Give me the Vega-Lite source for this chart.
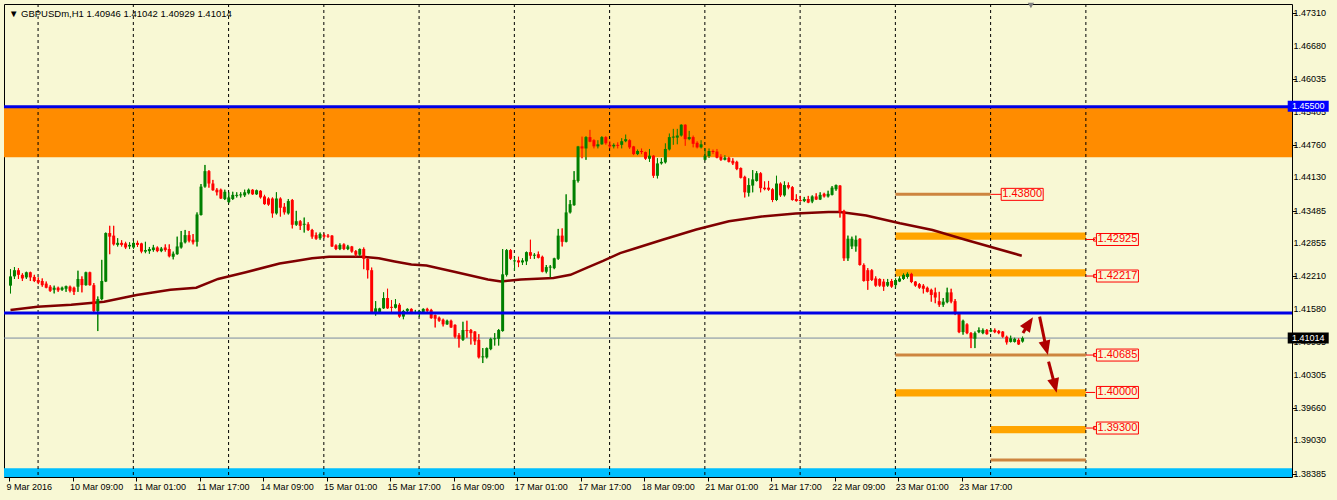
{
"$schema":"https://vega.github.io/schema/vega-lite/v6.json",
"width":1288,"height":473,
"autosize":{"type":"none"},
"padding":{"left":4,"top":4,"right":45,"bottom":23},
"background":"#F8F8D4",
"config":{"view":{"stroke":"#000000","strokeWidth":1},"font":"Liberation Sans","axis":{"labelOverlap":false,"labelFlush":false,"labelBound":false}},
"title":{"text":"▼  GBPUSDm,H1  1.40946 1.41042 1.40929 1.41014","anchor":"start","frame":"group","offset":-16,"dx":5,"fontSize":9.5,"fontWeight":"normal","font":"Liberation Sans","color":"#000000"},
"datasets":{
"candles":[
{"k":0,"o":1.4203,"h":1.4235,"l":1.4188,"c":1.4221},
{"k":1,"o":1.4221,"h":1.4239,"l":1.4216,"c":1.4233},
{"k":2,"o":1.4233,"h":1.4237,"l":1.4216,"c":1.4224},
{"k":3,"o":1.4224,"h":1.4227,"l":1.4212,"c":1.4217},
{"k":4,"o":1.4219,"h":1.4230,"l":1.4216,"c":1.4229},
{"k":5,"o":1.4229,"h":1.4230,"l":1.4212,"c":1.4219},
{"k":6,"o":1.4220,"h":1.4224,"l":1.4210,"c":1.4212},
{"k":7,"o":1.4214,"h":1.4219,"l":1.4206,"c":1.4209},
{"k":8,"o":1.4212,"h":1.4217,"l":1.4201,"c":1.4204},
{"k":9,"o":1.4207,"h":1.4211,"l":1.4198,"c":1.4199},
{"k":10,"o":1.4201,"h":1.4204,"l":1.4191,"c":1.4193},
{"k":11,"o":1.4195,"h":1.4203,"l":1.4188,"c":1.4199},
{"k":12,"o":1.4199,"h":1.4201,"l":1.4191,"c":1.4194},
{"k":13,"o":1.4195,"h":1.4201,"l":1.4193,"c":1.4199},
{"k":14,"o":1.4197,"h":1.4203,"l":1.4191,"c":1.4202},
{"k":15,"o":1.4201,"h":1.4203,"l":1.4190,"c":1.4193},
{"k":16,"o":1.4199,"h":1.4201,"l":1.4185,"c":1.4191},
{"k":17,"o":1.4201,"h":1.4232,"l":1.4191,"c":1.4216},
{"k":18,"o":1.4216,"h":1.4221,"l":1.4190,"c":1.4204},
{"k":19,"o":1.4204,"h":1.4230,"l":1.4203,"c":1.4229},
{"k":20,"o":1.4229,"h":1.4230,"l":1.4203,"c":1.4204},
{"k":21,"o":1.4204,"h":1.4208,"l":1.4151,"c":1.4154},
{"k":22,"o":1.4154,"h":1.4182,"l":1.4115,"c":1.4177},
{"k":23,"o":1.4177,"h":1.4253,"l":1.4175,"c":1.4212},
{"k":24,"o":1.4211,"h":1.4306,"l":1.4210,"c":1.4305},
{"k":25,"o":1.4305,"h":1.4319,"l":1.4264,"c":1.4298},
{"k":26,"o":1.4300,"h":1.4319,"l":1.4281,"c":1.4283},
{"k":27,"o":1.4282,"h":1.4295,"l":1.4279,"c":1.4286},
{"k":28,"o":1.4286,"h":1.4291,"l":1.4279,"c":1.4282},
{"k":29,"o":1.4285,"h":1.4288,"l":1.4274,"c":1.4277},
{"k":30,"o":1.4279,"h":1.4287,"l":1.4274,"c":1.4282},
{"k":31,"o":1.4277,"h":1.4290,"l":1.4274,"c":1.4286},
{"k":32,"o":1.4286,"h":1.4290,"l":1.4278,"c":1.4282},
{"k":33,"o":1.4285,"h":1.4286,"l":1.4266,"c":1.4269},
{"k":34,"o":1.4269,"h":1.4288,"l":1.4266,"c":1.4272},
{"k":35,"o":1.4270,"h":1.4278,"l":1.4265,"c":1.4274},
{"k":36,"o":1.4272,"h":1.4282,"l":1.4269,"c":1.4277},
{"k":37,"o":1.4277,"h":1.4279,"l":1.4268,"c":1.4270},
{"k":38,"o":1.4270,"h":1.4278,"l":1.4268,"c":1.4275},
{"k":39,"o":1.4277,"h":1.4283,"l":1.4269,"c":1.4272},
{"k":40,"o":1.4274,"h":1.4283,"l":1.4258,"c":1.4260},
{"k":41,"o":1.4259,"h":1.4269,"l":1.4254,"c":1.4265},
{"k":42,"o":1.4264,"h":1.4298,"l":1.4263,"c":1.4279},
{"k":43,"o":1.4277,"h":1.4309,"l":1.4275,"c":1.4287},
{"k":44,"o":1.4287,"h":1.4311,"l":1.4285,"c":1.4301},
{"k":45,"o":1.4301,"h":1.4309,"l":1.4287,"c":1.4290},
{"k":46,"o":1.4292,"h":1.4303,"l":1.4283,"c":1.4287},
{"k":47,"o":1.4288,"h":1.4345,"l":1.4279,"c":1.4341},
{"k":48,"o":1.4340,"h":1.4400,"l":1.4339,"c":1.4395},
{"k":49,"o":1.4395,"h":1.4437,"l":1.4393,"c":1.4425},
{"k":50,"o":1.4425,"h":1.4427,"l":1.4393,"c":1.4401},
{"k":51,"o":1.4401,"h":1.4408,"l":1.4387,"c":1.4388},
{"k":52,"o":1.4389,"h":1.4392,"l":1.4378,"c":1.4384},
{"k":53,"o":1.4389,"h":1.4391,"l":1.4371,"c":1.4372},
{"k":54,"o":1.4371,"h":1.4389,"l":1.4369,"c":1.4385},
{"k":55,"o":1.4365,"h":1.4384,"l":1.4363,"c":1.4374},
{"k":56,"o":1.4371,"h":1.4385,"l":1.4369,"c":1.4379},
{"k":57,"o":1.4377,"h":1.4384,"l":1.4374,"c":1.4379},
{"k":58,"o":1.4378,"h":1.4384,"l":1.4374,"c":1.4380},
{"k":59,"o":1.4378,"h":1.4389,"l":1.4375,"c":1.4384},
{"k":60,"o":1.4382,"h":1.4391,"l":1.4380,"c":1.4389},
{"k":61,"o":1.4389,"h":1.4390,"l":1.4379,"c":1.4380},
{"k":62,"o":1.4380,"h":1.4389,"l":1.4379,"c":1.4388},
{"k":63,"o":1.4387,"h":1.4388,"l":1.4372,"c":1.4374},
{"k":64,"o":1.4376,"h":1.4379,"l":1.4360,"c":1.4361},
{"k":65,"o":1.4372,"h":1.4374,"l":1.4358,"c":1.4360},
{"k":66,"o":1.4372,"h":1.4374,"l":1.4335,"c":1.4343},
{"k":67,"o":1.4343,"h":1.4384,"l":1.4341,"c":1.4372},
{"k":68,"o":1.4372,"h":1.4374,"l":1.4337,"c":1.4354},
{"k":69,"o":1.4356,"h":1.4363,"l":1.4341,"c":1.4345},
{"k":70,"o":1.4343,"h":1.4371,"l":1.4341,"c":1.4367},
{"k":71,"o":1.4369,"h":1.4371,"l":1.4314,"c":1.4321},
{"k":72,"o":1.4321,"h":1.4348,"l":1.4319,"c":1.4328},
{"k":73,"o":1.4328,"h":1.4330,"l":1.4311,"c":1.4319},
{"k":74,"o":1.4321,"h":1.4335,"l":1.4306,"c":1.4323},
{"k":75,"o":1.4322,"h":1.4326,"l":1.4309,"c":1.4311},
{"k":76,"o":1.4311,"h":1.4313,"l":1.4294,"c":1.4298},
{"k":77,"o":1.4301,"h":1.4306,"l":1.4292,"c":1.4294},
{"k":78,"o":1.4295,"h":1.4306,"l":1.4292,"c":1.4303},
{"k":79,"o":1.4301,"h":1.4304,"l":1.4295,"c":1.4298},
{"k":80,"o":1.4300,"h":1.4303,"l":1.4296,"c":1.4298},
{"k":81,"o":1.4300,"h":1.4301,"l":1.4278,"c":1.4279},
{"k":82,"o":1.4281,"h":1.4283,"l":1.4272,"c":1.4274},
{"k":83,"o":1.4274,"h":1.4285,"l":1.4272,"c":1.4282},
{"k":84,"o":1.4283,"h":1.4285,"l":1.4272,"c":1.4274},
{"k":85,"o":1.4274,"h":1.4282,"l":1.4272,"c":1.4279},
{"k":86,"o":1.4279,"h":1.4280,"l":1.4267,"c":1.4269},
{"k":87,"o":1.4270,"h":1.4272,"l":1.4259,"c":1.4263},
{"k":88,"o":1.4263,"h":1.4275,"l":1.4261,"c":1.4274},
{"k":89,"o":1.4274,"h":1.4277,"l":1.4235,"c":1.4255},
{"k":90,"o":1.4255,"h":1.4256,"l":1.4217,"c":1.4233},
{"k":91,"o":1.4233,"h":1.4238,"l":1.4151,"c":1.4152},
{"k":92,"o":1.4152,"h":1.4173,"l":1.4145,"c":1.4159},
{"k":93,"o":1.4152,"h":1.4160,"l":1.4149,"c":1.4159},
{"k":94,"o":1.4159,"h":1.4190,"l":1.4158,"c":1.4179},
{"k":95,"o":1.4179,"h":1.4197,"l":1.4158,"c":1.4159},
{"k":96,"o":1.4162,"h":1.4175,"l":1.4151,"c":1.4160},
{"k":97,"o":1.4160,"h":1.4177,"l":1.4159,"c":1.4167},
{"k":98,"o":1.4166,"h":1.4169,"l":1.4141,"c":1.4143},
{"k":99,"o":1.4143,"h":1.4156,"l":1.4138,"c":1.4154},
{"k":100,"o":1.4154,"h":1.4159,"l":1.4151,"c":1.4158},
{"k":101,"o":1.4158,"h":1.4159,"l":1.4148,"c":1.4149},
{"k":102,"o":1.4149,"h":1.4156,"l":1.4148,"c":1.4152},
{"k":103,"o":1.4149,"h":1.4156,"l":1.4143,"c":1.4154},
{"k":104,"o":1.4152,"h":1.4159,"l":1.4150,"c":1.4158},
{"k":105,"o":1.4158,"h":1.4160,"l":1.4151,"c":1.4154},
{"k":106,"o":1.4156,"h":1.4158,"l":1.4139,"c":1.4140},
{"k":107,"o":1.4146,"h":1.4147,"l":1.4122,"c":1.4139},
{"k":108,"o":1.4141,"h":1.4143,"l":1.4133,"c":1.4135},
{"k":109,"o":1.4137,"h":1.4139,"l":1.4124,"c":1.4128},
{"k":110,"o":1.4128,"h":1.4137,"l":1.4127,"c":1.4135},
{"k":111,"o":1.4135,"h":1.4137,"l":1.4121,"c":1.4122},
{"k":112,"o":1.4127,"h":1.4128,"l":1.4101,"c":1.4104},
{"k":113,"o":1.4107,"h":1.4111,"l":1.4083,"c":1.4100},
{"k":114,"o":1.4098,"h":1.4133,"l":1.4096,"c":1.4117},
{"k":115,"o":1.4117,"h":1.4135,"l":1.4102,"c":1.4115},
{"k":116,"o":1.4117,"h":1.4119,"l":1.4089,"c":1.4111},
{"k":117,"o":1.4114,"h":1.4115,"l":1.4088,"c":1.4095},
{"k":118,"o":1.4098,"h":1.4109,"l":1.4062,"c":1.4064},
{"k":119,"o":1.4064,"h":1.4082,"l":1.4053,"c":1.4066},
{"k":120,"o":1.4064,"h":1.4083,"l":1.4062,"c":1.4082},
{"k":121,"o":1.4080,"h":1.4102,"l":1.4078,"c":1.4100},
{"k":122,"o":1.4099,"h":1.4111,"l":1.4087,"c":1.4101},
{"k":123,"o":1.4100,"h":1.4119,"l":1.4087,"c":1.4117},
{"k":124,"o":1.4115,"h":1.4274,"l":1.4114,"c":1.4225},
{"k":125,"o":1.4224,"h":1.4274,"l":1.4221,"c":1.4272},
{"k":126,"o":1.4272,"h":1.4274,"l":1.4253,"c":1.4255},
{"k":127,"o":1.4250,"h":1.4259,"l":1.4232,"c":1.4252},
{"k":128,"o":1.4252,"h":1.4259,"l":1.4239,"c":1.4248},
{"k":129,"o":1.4248,"h":1.4256,"l":1.4243,"c":1.4252},
{"k":130,"o":1.4250,"h":1.4269,"l":1.4243,"c":1.4268},
{"k":131,"o":1.4268,"h":1.4292,"l":1.4255,"c":1.4261},
{"k":132,"o":1.4261,"h":1.4266,"l":1.4255,"c":1.4263},
{"k":133,"o":1.4264,"h":1.4269,"l":1.4256,"c":1.4257},
{"k":134,"o":1.4259,"h":1.4261,"l":1.4229,"c":1.4230},
{"k":135,"o":1.4230,"h":1.4243,"l":1.4227,"c":1.4239},
{"k":136,"o":1.4238,"h":1.4243,"l":1.4219,"c":1.4240},
{"k":137,"o":1.4237,"h":1.4257,"l":1.4235,"c":1.4256},
{"k":138,"o":1.4255,"h":1.4313,"l":1.4253,"c":1.4300},
{"k":139,"o":1.4300,"h":1.4314,"l":1.4279,"c":1.4288},
{"k":140,"o":1.4288,"h":1.4380,"l":1.4287,"c":1.4345},
{"k":141,"o":1.4345,"h":1.4369,"l":1.4343,"c":1.4361},
{"k":142,"o":1.4359,"h":1.4425,"l":1.4358,"c":1.4408},
{"k":143,"o":1.4406,"h":1.4474,"l":1.4403,"c":1.4473},
{"k":144,"o":1.4473,"h":1.4492,"l":1.4450,"c":1.4469},
{"k":145,"o":1.4469,"h":1.4493,"l":1.4447,"c":1.4491},
{"k":146,"o":1.4491,"h":1.4505,"l":1.4481,"c":1.4482},
{"k":147,"o":1.4485,"h":1.4487,"l":1.4469,"c":1.4473},
{"k":148,"o":1.4473,"h":1.4485,"l":1.4469,"c":1.4477},
{"k":149,"o":1.4477,"h":1.4493,"l":1.4476,"c":1.4491},
{"k":150,"o":1.4491,"h":1.4493,"l":1.4476,"c":1.4479},
{"k":151,"o":1.4476,"h":1.4483,"l":1.4469,"c":1.4473},
{"k":152,"o":1.4473,"h":1.4479,"l":1.4469,"c":1.4476},
{"k":153,"o":1.4476,"h":1.4481,"l":1.4469,"c":1.4474},
{"k":154,"o":1.4476,"h":1.4489,"l":1.4469,"c":1.4483},
{"k":155,"o":1.4483,"h":1.4496,"l":1.4481,"c":1.4487},
{"k":156,"o":1.4485,"h":1.4487,"l":1.4468,"c":1.4471},
{"k":157,"o":1.4473,"h":1.4474,"l":1.4456,"c":1.4458},
{"k":158,"o":1.4458,"h":1.4467,"l":1.4456,"c":1.4464},
{"k":159,"o":1.4464,"h":1.4469,"l":1.4458,"c":1.4462},
{"k":160,"o":1.4462,"h":1.4463,"l":1.4447,"c":1.4449},
{"k":161,"o":1.4449,"h":1.4468,"l":1.4443,"c":1.4455},
{"k":162,"o":1.4455,"h":1.4456,"l":1.4412,"c":1.4416},
{"k":163,"o":1.4416,"h":1.4450,"l":1.4411,"c":1.4440},
{"k":164,"o":1.4440,"h":1.4450,"l":1.4438,"c":1.4443},
{"k":165,"o":1.4442,"h":1.4479,"l":1.4440,"c":1.4468},
{"k":166,"o":1.4467,"h":1.4498,"l":1.4465,"c":1.4491},
{"k":167,"o":1.4490,"h":1.4507,"l":1.4476,"c":1.4492},
{"k":168,"o":1.4490,"h":1.4507,"l":1.4477,"c":1.4494},
{"k":169,"o":1.4494,"h":1.4516,"l":1.4492,"c":1.4515},
{"k":170,"o":1.4515,"h":1.4516,"l":1.4474,"c":1.4487},
{"k":171,"o":1.4487,"h":1.4503,"l":1.4485,"c":1.4491},
{"k":172,"o":1.4491,"h":1.4494,"l":1.4471,"c":1.4478},
{"k":173,"o":1.4480,"h":1.4483,"l":1.4469,"c":1.4471},
{"k":174,"o":1.4471,"h":1.4485,"l":1.4469,"c":1.4477},
{"k":175,"o":1.4447,"h":1.4469,"l":1.4446,"c":1.4455},
{"k":176,"o":1.4454,"h":1.4469,"l":1.4451,"c":1.4464},
{"k":177,"o":1.4464,"h":1.4467,"l":1.4458,"c":1.4462},
{"k":178,"o":1.4463,"h":1.4468,"l":1.4450,"c":1.4451},
{"k":179,"o":1.4453,"h":1.4458,"l":1.4445,"c":1.4447},
{"k":180,"o":1.4447,"h":1.4456,"l":1.4446,"c":1.4451},
{"k":181,"o":1.4451,"h":1.4453,"l":1.4442,"c":1.4443},
{"k":182,"o":1.4445,"h":1.4450,"l":1.4437,"c":1.4440},
{"k":183,"o":1.4443,"h":1.4445,"l":1.4427,"c":1.4429},
{"k":184,"o":1.4431,"h":1.4432,"l":1.4411,"c":1.4412},
{"k":185,"o":1.4414,"h":1.4416,"l":1.4374,"c":1.4384},
{"k":186,"o":1.4383,"h":1.4411,"l":1.4376,"c":1.4398},
{"k":187,"o":1.4397,"h":1.4427,"l":1.4384,"c":1.4409},
{"k":188,"o":1.4406,"h":1.4425,"l":1.4405,"c":1.4421},
{"k":189,"o":1.4421,"h":1.4423,"l":1.4384,"c":1.4392},
{"k":190,"o":1.4393,"h":1.4405,"l":1.4388,"c":1.4390},
{"k":191,"o":1.4393,"h":1.4406,"l":1.4387,"c":1.4389},
{"k":192,"o":1.4390,"h":1.4392,"l":1.4365,"c":1.4369},
{"k":193,"o":1.4369,"h":1.4416,"l":1.4367,"c":1.4401},
{"k":194,"o":1.4401,"h":1.4403,"l":1.4375,"c":1.4378},
{"k":195,"o":1.4378,"h":1.4405,"l":1.4376,"c":1.4398},
{"k":196,"o":1.4398,"h":1.4403,"l":1.4390,"c":1.4393},
{"k":197,"o":1.4394,"h":1.4396,"l":1.4368,"c":1.4369},
{"k":198,"o":1.4371,"h":1.4380,"l":1.4366,"c":1.4367},
{"k":199,"o":1.4369,"h":1.4377,"l":1.4366,"c":1.4367},
{"k":200,"o":1.4367,"h":1.4375,"l":1.4365,"c":1.4371},
{"k":201,"o":1.4371,"h":1.4377,"l":1.4363,"c":1.4364},
{"k":202,"o":1.4366,"h":1.4378,"l":1.4363,"c":1.4376},
{"k":203,"o":1.4376,"h":1.4382,"l":1.4369,"c":1.4370},
{"k":204,"o":1.4370,"h":1.4384,"l":1.4369,"c":1.4379},
{"k":205,"o":1.4381,"h":1.4383,"l":1.4374,"c":1.4376},
{"k":206,"o":1.4376,"h":1.4387,"l":1.4374,"c":1.4381},
{"k":207,"o":1.4379,"h":1.4396,"l":1.4378,"c":1.4393},
{"k":208,"o":1.4390,"h":1.4399,"l":1.4387,"c":1.4398},
{"k":209,"o":1.4397,"h":1.4398,"l":1.4335,"c":1.4345},
{"k":210,"o":1.4348,"h":1.4350,"l":1.4251,"c":1.4256},
{"k":211,"o":1.4256,"h":1.4300,"l":1.4251,"c":1.4294},
{"k":212,"o":1.4279,"h":1.4298,"l":1.4274,"c":1.4294},
{"k":213,"o":1.4279,"h":1.4300,"l":1.4269,"c":1.4292},
{"k":214,"o":1.4294,"h":1.4295,"l":1.4242,"c":1.4243},
{"k":215,"o":1.4243,"h":1.4246,"l":1.4211,"c":1.4212},
{"k":216,"o":1.4233,"h":1.4237,"l":1.4195,"c":1.4212},
{"k":217,"o":1.4233,"h":1.4235,"l":1.4212,"c":1.4214},
{"k":218,"o":1.4217,"h":1.4221,"l":1.4201,"c":1.4203},
{"k":219,"o":1.4216,"h":1.4217,"l":1.4201,"c":1.4203},
{"k":220,"o":1.4211,"h":1.4216,"l":1.4193,"c":1.4201},
{"k":221,"o":1.4203,"h":1.4216,"l":1.4201,"c":1.4210},
{"k":222,"o":1.4212,"h":1.4216,"l":1.4199,"c":1.4201},
{"k":223,"o":1.4204,"h":1.4217,"l":1.4199,"c":1.4214},
{"k":224,"o":1.4211,"h":1.4221,"l":1.4210,"c":1.4217},
{"k":225,"o":1.4216,"h":1.4227,"l":1.4214,"c":1.4224},
{"k":226,"o":1.4220,"h":1.4229,"l":1.4217,"c":1.4226},
{"k":227,"o":1.4226,"h":1.4228,"l":1.4208,"c":1.4210},
{"k":228,"o":1.4211,"h":1.4212,"l":1.4201,"c":1.4203},
{"k":229,"o":1.4206,"h":1.4208,"l":1.4197,"c":1.4199},
{"k":230,"o":1.4203,"h":1.4206,"l":1.4188,"c":1.4197},
{"k":231,"o":1.4199,"h":1.4201,"l":1.4190,"c":1.4191},
{"k":232,"o":1.4195,"h":1.4197,"l":1.4172,"c":1.4185},
{"k":233,"o":1.4190,"h":1.4199,"l":1.4169,"c":1.4180},
{"k":234,"o":1.4173,"h":1.4191,"l":1.4162,"c":1.4166},
{"k":235,"o":1.4166,"h":1.4179,"l":1.4162,"c":1.4172},
{"k":236,"o":1.4171,"h":1.4199,"l":1.4169,"c":1.4190},
{"k":237,"o":1.4190,"h":1.4197,"l":1.4169,"c":1.4172},
{"k":238,"o":1.4173,"h":1.4177,"l":1.4146,"c":1.4148},
{"k":239,"o":1.4148,"h":1.4149,"l":1.4111,"c":1.4113},
{"k":240,"o":1.4113,"h":1.4137,"l":1.4108,"c":1.4135},
{"k":241,"o":1.4128,"h":1.4130,"l":1.4109,"c":1.4111},
{"k":242,"o":1.4111,"h":1.4113,"l":1.4082,"c":1.4101},
{"k":243,"o":1.4100,"h":1.4114,"l":1.4082,"c":1.4111},
{"k":244,"o":1.4113,"h":1.4122,"l":1.4111,"c":1.4117},
{"k":245,"o":1.4111,"h":1.4120,"l":1.4109,"c":1.4117},
{"k":246,"o":1.4117,"h":1.4119,"l":1.4108,"c":1.4109},
{"k":247,"o":1.4114,"h":1.4120,"l":1.4113,"c":1.4117},
{"k":248,"o":1.4117,"h":1.4120,"l":1.4111,"c":1.4113},
{"k":249,"o":1.4115,"h":1.4117,"l":1.4109,"c":1.4111},
{"k":250,"o":1.4114,"h":1.4115,"l":1.4102,"c":1.4104},
{"k":251,"o":1.4104,"h":1.4106,"l":1.4089,"c":1.4093},
{"k":252,"o":1.4094,"h":1.4106,"l":1.4093,"c":1.4101},
{"k":253,"o":1.4094,"h":1.4102,"l":1.4093,"c":1.4100},
{"k":254,"o":1.4098,"h":1.4101,"l":1.4088,"c":1.4089},
{"k":255,"o":1.40946,"h":1.41042,"l":1.40929,"c":1.41014}
],
"ma":[
{"k":0,"v":1.4156},{"k":6.8,"v":1.4162},{"k":15.3,"v":1.4166},{"k":23.6,"v":1.4172},{"k":31.8,"v":1.4185},{"k":40.3,"v":1.4195},{"k":46.8,"v":1.4199},{"k":52.3,"v":1.4216},{"k":59.3,"v":1.4229},{"k":67.8,"v":1.4246},{"k":71.8,"v":1.4251},{"k":76,"v":1.4256},{"k":80.3,"v":1.4259},{"k":88.6,"v":1.4259},{"k":92.8,"v":1.4256},{"k":96.8,"v":1.4250},{"k":101,"v":1.4244},{"k":104.8,"v":1.4242},{"k":111.8,"v":1.4230},{"k":120.3,"v":1.4215},{"k":123.6,"v":1.4211},{"k":128.6,"v":1.4215},{"k":136.8,"v":1.4218},{"k":141.1,"v":1.4224},{"k":145.3,"v":1.4238},{"k":149.3,"v":1.4251},{"k":153.6,"v":1.4266},{"k":157.3,"v":1.4275},{"k":164.3,"v":1.4292},{"k":172.8,"v":1.4312},{"k":181,"v":1.4328},{"k":189.3,"v":1.4337},{"k":197.8,"v":1.4343},{"k":206.1,"v":1.4346},{"k":209,"v":1.4346},{"k":215.6,"v":1.4339},{"k":224.1,"v":1.4324},{"k":232.3,"v":1.4311},{"k":240.6,"v":1.4292},{"k":246.6,"v":1.4279},{"k":254.8,"v":1.4261}
],
"grid":[{"k":6.95},{"k":30.95},{"k":54.95},{"k":78.95},{"k":102.95},{"k":126.95},{"k":150.95},{"k":174.95},{"k":198.95},{"k":222.95},{"k":246.95},{"k":270.95}],
"zones":[{"lo":1.4452,"hi":1.4550}],
"cyan":[{"lo":1.3832,"hi":1.3849}],
"bands":[
{"k1":222.95,"k2":270.95,"lo":1.4292,"hi":1.4306},
{"k1":222.95,"k2":270.95,"lo":1.4221,"hi":1.4235},
{"k1":222.95,"k2":270.95,"lo":1.3988,"hi":1.4002},
{"k1":246.95,"k2":270.95,"lo":1.3917,"hi":1.3931}
],
"levels":[
{"k1":222.95,"k2":246.95,"v":1.438},
{"k1":222.95,"k2":270.95,"v":1.40685},
{"k1":246.95,"k2":270.95,"v":1.3865}
],
"hlines":[{"v":1.455},{"v":1.4150}],
"labels":[
{"k":254.9,"v":1.438,"t":"1.43800","c1":246.95,"c2":249.7},
{"k":278.9,"v":1.42925,"t":"1.42925","c1":270.95,"c2":273.3},
{"k":278.9,"v":1.42217,"t":"1.42217","c1":270.95,"c2":273.3},
{"k":278.9,"v":1.40685,"t":"1.40685","c1":270.95,"c2":273.3},
{"k":278.9,"v":1.3996,"t":"1.40000","c1":270.95,"c2":273.3},
{"k":278.9,"v":1.3927,"t":"1.39300","c1":270.95,"c2":273.3}
],
"squares":[{"k":273.3,"v":1.42925},{"k":273.3,"v":1.42217},{"k":273.3,"v":1.40685},{"k":273.3,"v":1.3927}],
"arrows":[
{"k1":255.1,"v1":1.41113,"k2":256.5,"v2":1.41287},
{"k1":259.3,"v1":1.41429,"k2":260.9,"v2":1.40838},
{"k1":261.55,"v1":1.40556,"k2":263.1,"v2":1.40105}
],
"yticks":[{"k":323.25,"v":1.4731},{"k":323.25,"v":1.4668},{"k":323.25,"v":1.46035},{"k":323.25,"v":1.45405},{"k":323.25,"v":1.4476},{"k":323.25,"v":1.4413},{"k":323.25,"v":1.43485},{"k":323.25,"v":1.42855},{"k":323.25,"v":1.4221},{"k":323.25,"v":1.4158},{"k":323.25,"v":1.40935},{"k":323.25,"v":1.40305},{"k":323.25,"v":1.3966},{"k":323.25,"v":1.3903},{"k":323.25,"v":1.38385}],
"tags":[{"k":326.97,"v":1.4551,"t":"1.45500"},{"k":326.97,"v":1.41014,"t":"1.41014"}],
"shift":[{"k":257.1,"v":1.4746}],
"last":[{"v":1.41014}]
},
"layer":[
{"data":{"name":"candles"},"mark":{"type":"rule","strokeWidth":1},
 "encoding":{"x":{"field":"k","type":"quantitative","scale":{"domain":[-0.375,321.625],"nice":false,"zero":false},
   "axis":{"values":[-0.35,15.65,31.65,47.65,63.65,79.65,95.65,111.65,127.65,143.65,159.65,175.65,191.65,207.65,223.65,239.65],
   "labelExpr":"['9 Mar 2016','10 Mar 09:00','11 Mar 01:00','11 Mar 17:00','14 Mar 09:00','15 Mar 01:00','15 Mar 17:00','16 Mar 09:00','17 Mar 01:00','17 Mar 17:00','18 Mar 09:00','21 Mar 01:00','21 Mar 17:00','22 Mar 09:00','23 Mar 01:00','23 Mar 17:00'][round((datum.value+0.35)/16)]",
   "orient":"bottom","labelAlign":"left","labelBaseline":"top","labelOffset":-3,"tickSize":4,"tickColor":"#000000","labelPadding":1,"domain":false,"grid":false,"title":null,"labelFlush":false,"labelOverlap":false,"labelFontSize":9,"labelColor":"#000000","labelFont":"Liberation Sans"}},
 "y":{"field":"l","type":"quantitative","scale":{"domain":[1.38321,1.4749],"nice":false,"zero":false},
   "axis":{"orient":"right","values":[1.4731,1.4668,1.46035,1.45405,1.4476,1.4413,1.43485,1.42855,1.4221,1.4158,1.40935,1.40305,1.3966,1.3903,1.38385],
   "labels":false,"tickSize":4,"tickColor":"#000000","domain":false,"grid":false,"title":null}},
 "y2":{"field":"h"},
 "color":{"condition":{"test":"datum.c >= datum.o","value":"#008000"},"value":"#FF0000"}}},
{"data":{"name":"cyan"},"mark":{"type":"rect","color":"#00BFFF"},
 "encoding":{"y":{"field":"lo","type":"quantitative","scale":{"domain":[1.38321,1.4749],"nice":false,"zero":false}},"y2":{"field":"hi"}}},
{"data":{"name":"zones"},"mark":{"type":"rect","color":"#FF8C00"},
 "encoding":{"y":{"field":"lo","type":"quantitative","scale":{"domain":[1.38321,1.4749],"nice":false,"zero":false}},"y2":{"field":"hi"}}},
{"data":{"name":"bands"},"mark":{"type":"rect","color":"#FFA500"},
 "encoding":{"x":{"field":"k1","type":"quantitative","scale":{"domain":[-0.375,321.625],"nice":false,"zero":false}},"x2":{"field":"k2"},
 "y":{"field":"lo","type":"quantitative","scale":{"domain":[1.38321,1.4749],"nice":false,"zero":false}},"y2":{"field":"hi"}}},
{"data":{"name":"grid"},"mark":{"type":"rule","color":"#000000","strokeWidth":1,"strokeDash":[3,3]},
 "encoding":{"x":{"field":"k","type":"quantitative","scale":{"domain":[-0.375,321.625],"nice":false,"zero":false}}}},
{"data":{"name":"levels"},"mark":{"type":"rule","color":"#CD853F","strokeWidth":3},
 "encoding":{"x":{"field":"k1","type":"quantitative","scale":{"domain":[-0.375,321.625],"nice":false,"zero":false}},"x2":{"field":"k2"},
 "y":{"field":"v","type":"quantitative","scale":{"domain":[1.38321,1.4749],"nice":false,"zero":false}}}},
{"data":{"name":"last"},"mark":{"type":"rule","color":"#7A8AA0","strokeWidth":1},
 "encoding":{"y":{"field":"v","type":"quantitative","scale":{"domain":[1.38321,1.4749],"nice":false,"zero":false}}}},
{"data":{"name":"ma"},"mark":{"type":"line","color":"#800000","strokeWidth":2.5},
 "encoding":{"x":{"field":"k","type":"quantitative","scale":{"domain":[-0.375,321.625],"nice":false,"zero":false}},
 "y":{"field":"v","type":"quantitative","scale":{"domain":[1.38321,1.4749],"nice":false,"zero":false}}}},
{"data":{"name":"candles"},"mark":{"type":"rule","strokeWidth":1},
 "encoding":{"x":{"field":"k","type":"quantitative","scale":{"domain":[-0.375,321.625],"nice":false,"zero":false}},
 "y":{"field":"l","type":"quantitative","scale":{"domain":[1.38321,1.4749],"nice":false,"zero":false}},"y2":{"field":"h"},
 "color":{"condition":{"test":"datum.c >= datum.o","value":"#008000"},"value":"#FF0000"}}},
{"data":{"name":"candles"},"mark":{"type":"bar","width":3},
 "encoding":{"x":{"field":"k","type":"quantitative","scale":{"domain":[-0.375,321.625],"nice":false,"zero":false}},
 "y":{"field":"o","type":"quantitative","scale":{"domain":[1.38321,1.4749],"nice":false,"zero":false}},"y2":{"field":"c"},
 "color":{"condition":{"test":"datum.c >= datum.o","value":"#008000"},"value":"#FF0000"}}},
{"data":{"name":"hlines"},"mark":{"type":"rule","color":"#0000E6","strokeWidth":3},
 "encoding":{"y":{"field":"v","type":"quantitative","scale":{"domain":[1.38321,1.4749],"nice":false,"zero":false}}}},
{"data":{"name":"labels"},"mark":{"type":"rule","color":"#FF0000","strokeWidth":1},
 "encoding":{"x":{"field":"c1","type":"quantitative","scale":{"domain":[-0.375,321.625],"nice":false,"zero":false}},"x2":{"field":"c2"},
 "y":{"field":"v","type":"quantitative","scale":{"domain":[1.38321,1.4749],"nice":false,"zero":false}}}},
{"data":{"name":"squares"},"mark":{"type":"point","shape":"square","size":10,"filled":false,"color":"#FF0000","strokeWidth":1,"opacity":1},
 "encoding":{"x":{"field":"k","type":"quantitative","scale":{"domain":[-0.375,321.625],"nice":false,"zero":false}},
 "y":{"field":"v","type":"quantitative","scale":{"domain":[1.38321,1.4749],"nice":false,"zero":false}}}},
{"data":{"name":"labels"},"mark":{"type":"point","shape":"M-1,-0.2857H1V0.2857H-1Z","size":1764,"filled":true,"fill":"#F8F8D4","stroke":"#FF0000","strokeWidth":1,"opacity":1},
 "encoding":{"x":{"field":"k","type":"quantitative","scale":{"domain":[-0.375,321.625],"nice":false,"zero":false}},
 "y":{"field":"v","type":"quantitative","scale":{"domain":[1.38321,1.4749],"nice":false,"zero":false}}}},
{"data":{"name":"labels"},"mark":{"type":"text","align":"center","baseline":"middle","fontSize":11,"font":"Liberation Sans","color":"#FF0000"},
 "encoding":{"x":{"field":"k","type":"quantitative","scale":{"domain":[-0.375,321.625],"nice":false,"zero":false}},
 "y":{"field":"v","type":"quantitative","scale":{"domain":[1.38321,1.4749],"nice":false,"zero":false}},"text":{"field":"t"}}},
{"data":{"name":"arrows"},"mark":{"type":"rule","color":"#B00000","strokeWidth":3},
 "encoding":{"x":{"field":"k1","type":"quantitative","scale":{"domain":[-0.375,321.625],"nice":false,"zero":false}},"x2":{"field":"k2"},
 "y":{"field":"v1","type":"quantitative","scale":{"domain":[1.38321,1.4749],"nice":false,"zero":false}},"y2":{"field":"v2"}}},
{"data":{"name":"arrows"},"mark":{"type":"point","shape":"M0,-1L0.75,0.8L-0.75,0.8Z","size":256,"filled":true,"color":"#B00000","opacity":1},
 "encoding":{"x":{"field":"k2","type":"quantitative","scale":{"domain":[-0.375,321.625],"nice":false,"zero":false}},
 "y":{"field":"v2","type":"quantitative","scale":{"domain":[1.38321,1.4749],"nice":false,"zero":false}},
 "angle":{"condition":{"test":"datum.v2 < datum.v1","value":166},"value":34}}},
{"data":{"name":"shift"},"mark":{"type":"point","shape":"triangle-down","size":40,"filled":true,"color":"#808080","opacity":1},
 "encoding":{"x":{"field":"k","type":"quantitative","scale":{"domain":[-0.375,321.625],"nice":false,"zero":false}},
 "y":{"field":"v","type":"quantitative","scale":{"domain":[1.38321,1.4749],"nice":false,"zero":false}}}},
{"data":{"name":"yticks"},"mark":{"type":"text","align":"left","baseline":"middle","fontSize":9,"font":"Liberation Sans","color":"#000000"},
 "encoding":{"x":{"field":"k","type":"quantitative","scale":{"domain":[-0.375,321.625],"nice":false,"zero":false}},
 "y":{"field":"v","type":"quantitative","scale":{"domain":[1.38321,1.4749],"nice":false,"zero":false}},"text":{"field":"v","type":"quantitative","format":".5f"}}},
{"data":{"name":"tags"},"mark":{"type":"point","shape":"M-1,-0.2683H1V0.2683H-1Z","size":1681,"filled":true,"opacity":1,"strokeWidth":0},
 "encoding":{"x":{"field":"k","type":"quantitative","scale":{"domain":[-0.375,321.625],"nice":false,"zero":false}},
 "y":{"field":"v","type":"quantitative","scale":{"domain":[1.38321,1.4749],"nice":false,"zero":false}},
 "color":{"condition":{"test":"datum.v > 1.43","value":"#0000FF"},"value":"#000000"}}},
{"data":{"name":"tags"},"mark":{"type":"text","align":"center","baseline":"middle","fontSize":9,"font":"Liberation Sans","color":"#FFFFFF"},
 "encoding":{"x":{"field":"k","type":"quantitative","scale":{"domain":[-0.375,321.625],"nice":false,"zero":false}},
 "y":{"field":"v","type":"quantitative","scale":{"domain":[1.38321,1.4749],"nice":false,"zero":false}},"text":{"field":"t"}}}
]
}
